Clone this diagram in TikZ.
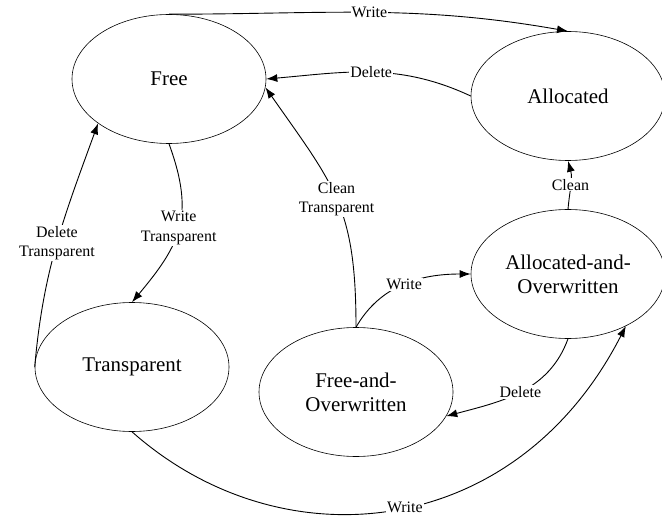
\documentclass[tikz,border=0pt]{standalone}
\usepackage{fontspec}
\setmainfont{Liberation Serif}
\usetikzlibrary{shapes.geometric,arrows.meta}

\begin{document}
\begin{tikzpicture}[x=1bp,y=1bp,
    >={Latex[length=11bp,width=8bp]},
    state/.style={draw,ellipse,line width=0.6bp,inner sep=0pt,
        minimum width=194bp,minimum height=129bp,align=center,
        font=\fontsize{21}{24}\selectfont},
    lbl/.style={fill=white,inner sep=1bp,align=center,
        font=\fontsize{16}{19.5}\selectfont},
    every path/.style={line width=0.9bp}]
\useasboundingbox (0,-516) rectangle (662,0);

\node [state] (free)  at (169,-79)  {Free};
\node [state] (alloc) at (568,-96)  {Allocated};
\node [state] (ao)    at (568,-274) {Allocated-and-\\Overwritten};
\node [state] (trans) at (132,-367) {Transparent};
\node [state] (fo)    at (356,-392) {Free-and-\\Overwritten};

\draw [->] (free.north) to[out=0,in=170]
    node[lbl] {Write} (alloc.north);
\draw [->] (alloc.west) to[out=155,in=5]
    node[lbl] {Delete} (free.east);
\draw [->] (fo.north) to[out=90,in=-55,looseness=1.2]
    node[lbl] {Clean\\Transparent} (free.-5);
\draw [->] (trans.west) to[out=85,in=-110]
    node[lbl] {Delete\\Transparent} (free.212);
\draw [->] (free.south) to[out=-70,in=50,looseness=1.2]
    node[lbl] {Write\\Transparent} (trans.north);
\draw [->] (fo.north) to[out=60,in=180]
    node[lbl] {Write} (ao.west);
\draw [->] (ao.north) to[out=85,in=-75]
    node[lbl] {Clean} (alloc.south);
\draw [->] (ao.south) to[out=-110,in=15]
    node[lbl] {Delete} (fo.-15);
\draw [->] (trans.south) .. controls +(150,-133) and +(-110,-215) ..
    node[lbl,pos=0.52] {Write} (ao.-42);
\end{tikzpicture}
\end{document}
